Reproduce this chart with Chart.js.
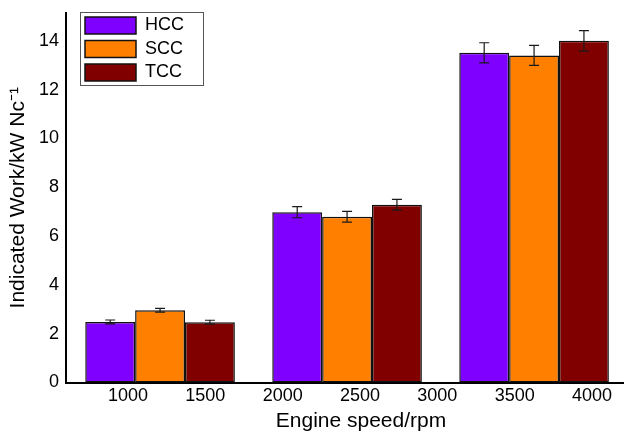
<!DOCTYPE html>
<html>
<head>
<meta charset="utf-8">
<script src="https://cdn.jsdelivr.net/npm/chart.js@4.4.1/dist/chart.umd.min.js"></script>
<style>
  html, body { margin: 0; padding: 0; background: #fff; overflow: hidden; }
  #wrap { width: 624px; height: 432px; overflow: hidden; position: relative; }
  canvas { display: block; }
</style>
</head>
<body>
<div id="wrap"><canvas id="c" width="656" height="432"></canvas></div>
<script>
// ---- data ----
const groups = [1, 2, 3];
const seriesNames = ['HCC', 'SCC', 'TCC'];
const hccValues = [2.48, 6.98, 13.51];
const sccValues = [2.96, 6.79, 13.40];
const tccValues = [2.47, 7.28, 14.00];
const hccErrors = [0.08, 0.23, 0.41];
const sccErrors = [0.08, 0.22, 0.41];
const tccErrors = [0.08, 0.22, 0.42];
const xTickLabels = [1000, 1500, 2000, 2500, 3000, 3500, 4000];
const yTickLabels = [0, 2, 4, 6, 8, 10, 12, 14];

const seriesColors = ['#7F00FF', '#FF8000', '#800000'];
const allValues = [hccValues, sccValues, tccValues];
const allErrors = [hccErrors, sccErrors, tccErrors];

const FONT = '"Liberation Sans", Arial, Helvetica, sans-serif';
Chart.defaults.font.family = FONT;
Chart.defaults.color = '#000';

const errorBars = {
  id: 'errorBars',
  afterDatasetsDraw(chart) {
    const ctx = chart.ctx;
    const y = chart.scales.y;
    ctx.save();
    ctx.strokeStyle = '#1a1a1a';
    ctx.lineWidth = 1.2;
    chart.data.datasets.forEach((ds, di) => {
      const meta = chart.getDatasetMeta(di);
      meta.data.forEach((el, i) => {
        const v = allValues[di][i], e = allErrors[di][i];
        const yt = y.getPixelForValue(v + e), yb = y.getPixelForValue(v - e);
        const cx = el.x, cap = 5;
        ctx.beginPath();
        ctx.moveTo(cx, yt); ctx.lineTo(cx, yb);
        ctx.moveTo(cx - cap, yt); ctx.lineTo(cx + cap, yt);
        ctx.moveTo(cx - cap, yb); ctx.lineTo(cx + cap, yb);
        ctx.stroke();
      });
    });
    ctx.restore();
  }
};

const legendFrame = {
  id: 'legendFrame',
  afterLayout(chart) {
    const lg = chart.legend;
    const pad = lg.options.labels.padding;
    lg.left = chart.chartArea.left + 19 - pad;
    lg.top = chart.chartArea.top - 2;
  },
  afterDraw(chart) {
    const lg = chart.legend;
    const ctx = chart.ctx;
    ctx.save();
    ctx.strokeStyle = '#555';
    ctx.lineWidth = 1;
    ctx.strokeRect(Math.round(lg.left) + 0.5, Math.round(lg.top) + 1.5, 123, 73);
    ctx.restore();
  }
};

new Chart(document.getElementById('c'), {
  type: 'bar',
  data: {
    datasets: seriesNames.map((name, di) => ({
      label: name,
      data: groups.map((g, i) => ({ x: g, y: allValues[di][i] })),
      backgroundColor: seriesColors[di],
      borderColor: '#111',
      borderWidth: 1.5,
      borderSkipped: false,
      categoryPercentage: 0.8,
      barPercentage: 1.0
    }))
  },
  options: {
    responsive: false,
    animation: false,
    events: [],
    layout: { padding: { top: 13, left: 0, right: 0, bottom: 0 } },
    plugins: {
      legend: {
        position: 'chartArea',
        align: 'start',
        labels: {
          boxWidth: 51,
          boxHeight: 17,
          padding: 5.5,
          color: '#000',
          font: { size: 18, family: FONT }
        }
      },
      tooltip: { enabled: false }
    },
    scales: {
      x: {
        type: 'linear',
        position: 'bottom',
        offset: false,
        min: 0.497,
        max: 3.652,
        weight: 0,
        grid: { display: false, drawTicks: false, offset: false },
        border: { display: true, color: '#000', width: 2 },
        ticks: { display: false },
        afterBuildTicks(axis) { axis.ticks = groups.map(v => ({ value: v })); },
        afterFit(axis) { axis.height = 2; axis.paddingLeft = 0; axis.paddingRight = 0; }
      },
      x2: {
        type: 'linear',
        axis: 'x',
        position: 'bottom',
        offset: false,
        min: 599.1,
        max: 4413.7,
        weight: 1,
        grid: { display: false, drawTicks: false, offset: false },
        border: { display: false },
        ticks: {
          padding: 1,
          autoSkip: false,
          maxRotation: 0,
          font: { size: 18, family: FONT },
          color: '#000',
          callback: (v) => String(v)
        },
        afterBuildTicks(axis) { axis.ticks = xTickLabels.map(v => ({ value: v })); },
        title: {
          display: true,
          text: 'Engine speed/rpm',
          color: '#000',
          font: { size: 21, family: FONT, lineHeight: 1.0 },
          padding: { top: 0, bottom: 0 }
        },
        afterFit(axis) { axis.height = 47.5; axis.paddingLeft = 0; axis.paddingRight = 0; }
      },
      y: {
        type: 'linear',
        min: 0,
        max: 15.14,
        grid: { display: false, drawTicks: false },
        border: { display: true, color: '#000', width: 2 },
        ticks: {
          padding: 7,
          font: { size: 18, family: FONT },
          color: '#000'
        },
        afterBuildTicks(axis) { axis.ticks = yTickLabels.map(v => ({ value: v })); },
        title: {
          display: true,
          text: 'Indicated Work/kW Nc\u207B\u00B9',
          color: '#000',
          font: { size: 21, family: FONT, lineHeight: 1.0 },
          padding: { top: 8, bottom: 0 }
        },
        afterFit(axis) { axis.width = 66; axis.paddingTop = 0; axis.paddingBottom = 0; }
      }
    }
  },
  plugins: [errorBars, legendFrame]
});
</script>
</body>
</html>
